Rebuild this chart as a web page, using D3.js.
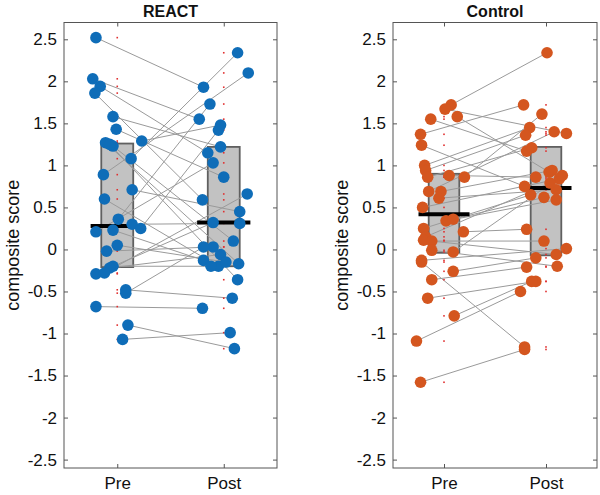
<!DOCTYPE html>
<html>
<head>
<meta charset="utf-8">
<script src="https://cdn.jsdelivr.net/npm/d3@7"></script>
<style>
  body { margin: 0; background: #fff; }
  text { font-family: "Liberation Sans", Arial, Helvetica, sans-serif; fill: #111; }
</style>
</head>
<body>
<div id="chart"></div>
<script>
// Pre/Post composite scores, paired by index. The *X arrays are the
// jittered horizontal positions of the circles (1 = Pre, 2 = Post).

let groups = ["Pre", "Post"];
let yTicks = [-2.5, -2, -1.5, -1, -0.5, 0, 0.5, 1, 1.5, 2, 2.5];

let reactPre   = [2.52, 2.03, 1.94, 1.86, 1.58, 1.43, 1.27, 1.23, 1.29, 1.08, 0.89, 0.71, 0.60, 0.36, 0.21,
                  0.23, 0.30, 0.25, -0.02, -0.20, -0.22, -0.29, -0.28, -0.48, -0.52, -0.68, -0.90, -1.07, 0.05, 1.25];
let reactPreX  = [0.80, 0.77, 0.84, 0.79, 0.96, 0.99, 0.89, 0.96, 1.23, 1.13, 0.87, 1.14, 0.88, 1.01, 0.80,
                  0.96, 1.14, 1.22, 0.90, 0.96, 0.93, 0.80, 0.88, 1.08, 1.08, 0.80, 1.10, 1.05, 1.00, 0.93];
let reactPost  = [1.93, 1.55, 1.15, 0.59, 1.22, 0.86, -0.17, 0.10, 1.48, 2.34, 2.10, 0.45, -0.20, 1.73, 1.03,
                  -0.13, 0.31, 1.42, 0.03, -0.20, -0.06, 0.32, 0.66, -0.58, 0.03, -0.70, -1.18, -0.99, -0.15, -0.36];
let reactPostX = [1.81, 1.77, 1.85, 1.80, 1.97, 2.00, 2.14, 2.09, 1.97, 2.13, 2.23, 2.15, 1.95, 1.87, 1.90,
                  1.81, 2.15, 1.95, 1.90, 1.88, 1.97, 1.90, 2.22, 2.08, 1.81, 1.80, 2.10, 2.06, 2.02, 2.13];
let reactQ1     = [-0.21, -0.20];
let reactMedian = [0.28, 0.32];
let reactQ3     = [1.26, 1.22];

let controlPre   = [1.72, 1.67, 1.58, 1.55, 1.37, 1.24, 1.00, 0.94, 0.86, 0.88, 0.86, 0.69, 0.69, 0.61, 0.50, 0.34,
                    0.36, 0.25, 0.21, 0.15, 0.11, 0.10, -0.01, -0.03, -0.13, -0.15, -0.26, -0.36, -0.58, -0.79, -1.09, -1.58];
let controlPreX  = [1.07, 1.01, 1.13, 0.87, 0.77, 0.78, 0.81, 0.82, 0.84, 1.05, 1.20, 0.85, 0.97, 0.95, 0.79, 1.02,
                    1.09, 0.80, 1.19, 0.82, 0.80, 0.88, 0.88, 1.09, 0.78, 0.78, 1.09, 0.88, 0.84, 1.10, 0.73, 0.77];
let controlPost  = [2.34, 1.38, 0.92, 1.17, 1.72, 0.75, 1.45, 1.36, 1.21, 0.86, 1.61, 1.40, 0.94, 0.71, 0.84, 0.59,
                    0.62, 0.65, 0.24, 0.79, -0.06, 0.10, -0.20, 0.88, 0.01, -1.16, -0.10, -0.21, -0.38, -0.38, -0.50, -1.19];
let controlPostX = [2.01, 2.20, 2.03, 1.81, 1.78, 1.79, 1.84, 1.80, 1.86, 1.90, 1.96, 2.08, 2.06, 2.10, 2.13, 2.10,
                    1.98, 1.85, 1.81, 2.04, 2.10, 1.98, 2.11, 2.16, 2.20, 1.79, 1.90, 1.81, 1.90, 1.86, 1.75, 1.79];
let controlQ1     = [-0.04, -0.07];
let controlMedian = [0.42, 0.73];
let controlQ3     = [0.90, 1.22];

////////////////////////////////////////////////////////////////////////
// Layout

let width = 600, height = 495;
let plotTop = 22.5, plotBottom = 468;

let svg = d3.select("#chart").append("svg")
  .attr("width", width)
  .attr("height", height);

let yScale = d3.scaleLinear().domain([-2.6, 2.7]).range([plotBottom, plotTop]);

function drawPanel(opts)
{
  let xScale = d3.scaleLinear().domain([0.5, 2.5]).range([opts.left, opts.right]);
  let g = svg.append("g");

  // paired rows
  let rows = opts.pre.map(function(v, i) {
    return { pre: v, preX: opts.preX[i], post: opts.post[i], postX: opts.postX[i] };
  });
  let boxes = groups.map(function(name, i) {
    return { x: i + 1, q1: opts.q1[i], med: opts.median[i], q3: opts.q3[i] };
  });

  // boxes
  g.selectAll("rect.box")
    .data(boxes)
    .enter()
    .append("rect")
    .attr("class", "box")
    .attr("x", d => xScale(d.x - 0.15))
    .attr("width", d => xScale(d.x + 0.15) - xScale(d.x - 0.15))
    .attr("y", d => yScale(d.q3))
    .attr("height", d => yScale(d.q1) - yScale(d.q3))
    .attr("fill", "#c2c2c2")
    .attr("stroke", "#606060")
    .attr("stroke-width", 1.8);

  // connecting lines
  g.selectAll("line.pair")
    .data(rows)
    .enter()
    .append("line")
    .attr("class", "pair")
    .attr("x1", d => xScale(d.preX))
    .attr("y1", d => yScale(d.pre))
    .attr("x2", d => xScale(d.postX))
    .attr("y2", d => yScale(d.post))
    .attr("stroke", "#9a9a9a")
    .attr("stroke-width", 1);

  // small red markers at the true group position
  let dots = [];
  rows.forEach(function(d) {
    dots.push({ x: 1, v: d.pre });
    dots.push({ x: 2, v: d.post });
  });
  g.selectAll("rect.dot")
    .data(dots)
    .enter()
    .append("rect")
    .attr("class", "dot")
    .attr("x", d => xScale(d.x) - 0.8)
    .attr("y", d => yScale(d.v) - 0.8)
    .attr("width", 1.6)
    .attr("height", 1.6)
    .attr("fill", "#e03030");

  // medians
  g.selectAll("line.median")
    .data(boxes)
    .enter()
    .append("line")
    .attr("class", "median")
    .attr("x1", d => xScale(d.x - 0.25))
    .attr("x2", d => xScale(d.x + 0.25))
    .attr("y1", d => yScale(d.med))
    .attr("y2", d => yScale(d.med))
    .attr("stroke", "#000")
    .attr("stroke-width", 4);

  // circles
  let pts = [];
  rows.forEach(function(d) {
    pts.push({ x: d.preX, v: d.pre });
    pts.push({ x: d.postX, v: d.post });
  });
  g.selectAll("circle")
    .data(pts)
    .enter()
    .append("circle")
    .attr("cx", d => xScale(d.x))
    .attr("cy", d => yScale(d.v))
    .attr("r", 5.8)
    .attr("fill", opts.color);

  // axes (ticks pointing inward, box on)
  let fmt = d => String(d);
  let yl = g.append("g").attr("transform", "translate(" + opts.left + ",0)")
    .call(d3.axisLeft(yScale).tickValues(yTicks).tickSize(-4).tickPadding(7).tickFormat(fmt));
  let yr = g.append("g").attr("transform", "translate(" + opts.right + ",0)")
    .call(d3.axisRight(yScale).tickValues(yTicks).tickSize(-4).tickFormat(""));
  let xb = g.append("g").attr("transform", "translate(0," + plotBottom + ")")
    .call(d3.axisBottom(xScale).tickValues([1, 2]).tickSize(-4).tickPadding(9)
      .tickFormat((d, i) => groups[i]));
  let xt = g.append("g").attr("transform", "translate(0," + plotTop + ")")
    .call(d3.axisTop(xScale).tickValues([1, 2]).tickSize(-4).tickFormat(""));

  [yl, yr, xb, xt].forEach(function(a) {
    a.select(".domain").remove();
    a.selectAll(".tick line").attr("stroke", "#555");
    a.selectAll(".tick text").attr("font-size", 17).attr("fill", "#111")
      .attr("font-family", "'Liberation Sans', Arial, sans-serif");
  });
  xb.selectAll(".tick text").attr("dy", "0.71em");

  g.append("rect")
    .attr("x", opts.left)
    .attr("y", plotTop)
    .attr("width", opts.right - opts.left)
    .attr("height", plotBottom - plotTop)
    .attr("fill", "none")
    .attr("stroke", "#555")
    .attr("stroke-width", 1);

  // title and y label
  g.append("text")
    .attr("x", (opts.left + opts.right) / 2)
    .attr("y", 17)
    .attr("text-anchor", "middle")
    .attr("font-size", 16)
    .attr("font-weight", "bold")
    .text(opts.title);

  g.append("text")
    .attr("transform", "translate(" + (opts.left - 45) + "," + ((plotTop + plotBottom) / 2) + ") rotate(-90)")
    .attr("text-anchor", "middle")
    .attr("font-size", 18)
    .text("composite score");
}

drawPanel({
  left: 64, right: 277, title: "REACT", color: "#0f6db8",
  pre: reactPre, preX: reactPreX, post: reactPost, postX: reactPostX,
  q1: reactQ1, median: reactMedian, q3: reactQ3
});

drawPanel({
  left: 393, right: 597, title: "Control", color: "#d4561f",
  pre: controlPre, preX: controlPreX, post: controlPost, postX: controlPostX,
  q1: controlQ1, median: controlMedian, q3: controlQ3
});
</script>
</body>
</html>
